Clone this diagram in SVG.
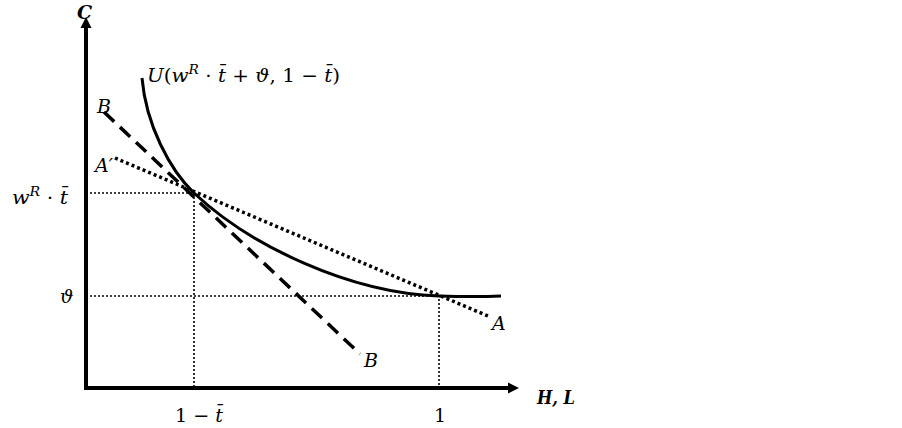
<svg xmlns="http://www.w3.org/2000/svg" width="902" height="428" viewBox="0 0 902 428">
<style>
.t{font-family:"DejaVu Serif","Liberation Serif",serif;font-size:19px;fill:#000}
.i{font-style:italic}
.b{font-weight:bold}
.sup{font-size:13px}
.axis{stroke:#000;stroke-width:4;fill:none}
.guide{stroke:#000;stroke-width:1.6;stroke-dasharray:2 2;fill:none}
.curve{stroke:#000;stroke-width:3;fill:none}
.dash{stroke:#000;stroke-width:3.5;stroke-dasharray:14 8;fill:none}
.dot{stroke:#000;stroke-width:3.5;stroke-dasharray:3 3;fill:none}
</style>
<rect width="902" height="428" fill="#fff"/>
<g id="axes">
<line class="axis" x1="86" y1="390" x2="86" y2="26"/>
<polygon points="86,17 80.5,28 91.5,28" fill="#000"/>
<line class="axis" x1="84" y1="388" x2="509" y2="388"/>
<polygon points="519,388 508,382.5 508,393.5" fill="#000"/>
<text class="t i b" x="77" y="19">C</text>
<text class="t i b" x="537" y="404" textLength="38" lengthAdjust="spacingAndGlyphs">H, L</text>
</g>
<g id="guides">
<path class="guide" d="M86,193 H194 V388"/>
<path class="guide" d="M86,296 H439 V388"/>
</g>
<g id="connectors">
<path id="indifference" class="curve" d="M142,78 C146,125 170,170 194,193 C249,245 349,293 439,296 C470,297 490,296.5 501,296"/>
<line id="lineB" class="dash" x1="104" y1="112" x2="360" y2="354"/>
<line id="lineA" class="dot" x1="115" y1="158" x2="488" y2="316"/>
</g>
<g id="labels">
<text class="t i" x="147" y="82" textLength="193" lengthAdjust="spacingAndGlyphs"><tspan>U</tspan><tspan font-style="normal">(</tspan><tspan>w</tspan><tspan class="sup" dy="-8">R</tspan><tspan dy="8" font-style="normal"> · </tspan><tspan>t̄</tspan><tspan font-style="normal"> + </tspan><tspan>ϑ</tspan><tspan font-style="normal">, 1 − </tspan><tspan>t̄</tspan><tspan font-style="normal">)</tspan></text>
<text class="t i" x="97" y="113">B</text>
<text class="t i" x="95" y="172">A′</text>
<text class="t i" x="12" y="204" textLength="56" lengthAdjust="spacingAndGlyphs"><tspan>w</tspan><tspan class="sup" dy="-8">R</tspan><tspan dy="8" font-style="normal"> · </tspan><tspan>t̄</tspan></text>
<text class="t i" x="60" y="303">ϑ</text>
<text class="t" x="175" y="422" textLength="48" lengthAdjust="spacingAndGlyphs">1 − <tspan font-style="italic">t̄</tspan></text>
<text class="t" x="434" y="422">1</text>
<text class="t i" x="364" y="367">B</text>
<text class="t i" x="492" y="330">A</text>
</g>
</svg>
